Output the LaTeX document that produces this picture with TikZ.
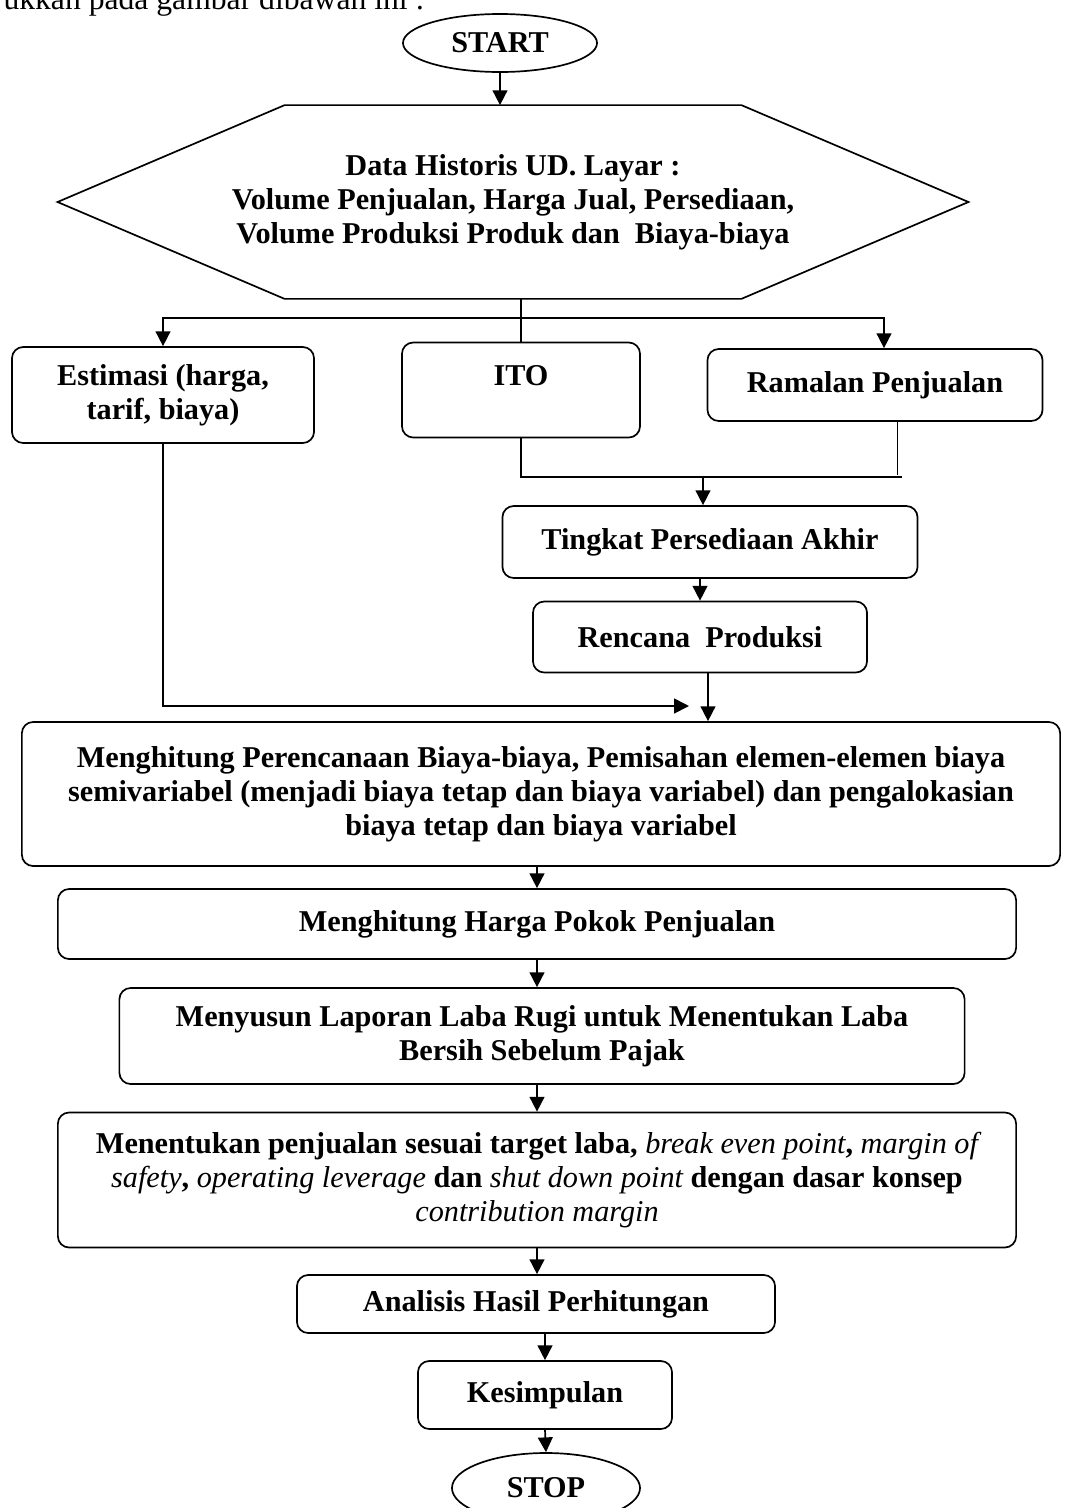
\documentclass[tikz,border=0pt]{standalone}
\usepackage{fontspec}
\setmainfont{Liberation Serif}
\usetikzlibrary{shapes.geometric,arrows.meta}

\begin{document}
\begin{tikzpicture}[x=0.025cm,y=-0.025cm,>={Triangle[length=10.5pt,width=10.5pt]},line width=1.2pt,
  font=\bfseries\fontsize{21.5}{24.2}\selectfont,
  main node/.style={rectangle,rounded corners=8pt,draw,align=center,inner sep=0pt},
  end node/.style={ellipse,draw,align=center,inner sep=0pt}]
  \useasboundingbox (0,0) rectangle (1066,1508);

  \node[anchor=base west,font=\mdseries\fontsize{22.5}{25}\selectfont] (0) at (-2,9) {ukkan pada gambar dibawah ini :};
  \node[end node,minimum width=4.85cm,minimum height=1.45cm] (1) at (500,43) {START};
  \node[minimum width=11.375cm,minimum height=4.8cm,inner sep=0pt,
    label={[align=center]center:Data Historis UD. Layar :\\ Volume Penjualan, Harga Jual, Persediaan,\\ Volume Produksi Produk dan\ \ Biaya-biaya}] (2) at (513,202) {};
  \draw (2.north west) -- (2.north east) -- ([xshift=5.675cm]2.east) -- (2.south east)
    -- (2.south west) -- ([xshift=-5.675cm]2.west) -- cycle;
  \node[main node,minimum width=7.55cm,minimum height=2.4cm] (3) at (163,395) {Estimasi (harga,\\ tarif, biaya)};
  \node[main node,minimum width=5.95cm,minimum height=2.375cm] (4) at (521,390) {ITO\\[-0.4cm] \strut};
  \node[main node,minimum width=8.375cm,minimum height=1.8cm] (5) at (875,385) {Ramalan Penjualan};
  \node[main node,minimum width=10.375cm,minimum height=1.8cm] (6) at (710,542) {Tingkat Persediaan Akhir};
  \node[main node,minimum width=8.35cm,minimum height=1.775cm] (7) at (700,637) {Rencana\ \ Produksi};
  \node[main node,minimum width=25.95cm,minimum height=3.6cm] (8) at (541,794)
    {Menghitung Perencanaan Biaya-biaya, Pemisahan elemen-elemen biaya\\ semivariabel (menjadi biaya tetap dan biaya variabel) dan pengalokasian\\ biaya tetap dan biaya variabel};
  \node[main node,minimum width=23.95cm,minimum height=1.75cm] (9) at (537,924) {Menghitung Harga Pokok Penjualan};
  \node[main node,minimum width=21.125cm,minimum height=2.4cm] (10) at (542,1036)
    {Menyusun Laporan Laba Rugi untuk Menentukan Laba\\ Bersih Sebelum Pajak};
  \node[main node,minimum width=23.95cm,minimum height=3.375cm] (11) at (537,1180)
    {Menentukan penjualan sesuai target laba, {\mdseries\itshape break even point}, {\mdseries\itshape margin of}\\ {\mdseries\itshape safety}, {\mdseries\itshape operating leverage} dan {\mdseries\itshape shut down point} dengan dasar konsep\\ {\mdseries\itshape contribution margin}};
  \node[main node,minimum width=11.95cm,minimum height=1.45cm] (12) at (536,1304) {Analisis Hasil Perhitungan};
  \node[main node,minimum width=6.35cm,minimum height=1.7cm] (13) at (545,1395) {Kesimpulan};
  \node[end node,minimum width=4.7cm,minimum height=1.75cm] (14) at (546,1488) {STOP};

  \coordinate (15) at (519,318);
  \coordinate (16) at (884,318);
  \coordinate (17) at (703,477);
  \coordinate (18) at (689,706);

  \draw[->] (1.south) -- (1.south |- 2.north);
  \draw (4.north |- 2.south) -- (4.north);
  \draw[->] (15) -| (3.north);
  \draw[->] (15) -| (16 |- 5.north);
  \draw (4.south) |- (902,477);
  \draw ([xshift=0.5625cm]5.south) -- ++(0,53);
  \draw[->] (17) -- (17 |- 6.north);
  \draw[->] (7.north |- 6.south) -- (7.north);
  \draw[->] ([xshift=0.2cm]7.south) -- ([xshift=0.2cm]7.south |- 8.north);
  \draw[->] (3.south) |- (18);
  \draw[->] (9.north |- 8.south) -- (9.north);
  \draw[->] (9.south) -- (9.south |- 10.north);
  \draw[->] (11.north |- 10.south) -- (11.north);
  \draw[->] (11.south) -- (11.south |- 12.north);
  \draw[->] (13.north |- 12.south) -- (13.north);
  \draw[->] (13.south) -- (14.north);
\end{tikzpicture}
\end{document}
